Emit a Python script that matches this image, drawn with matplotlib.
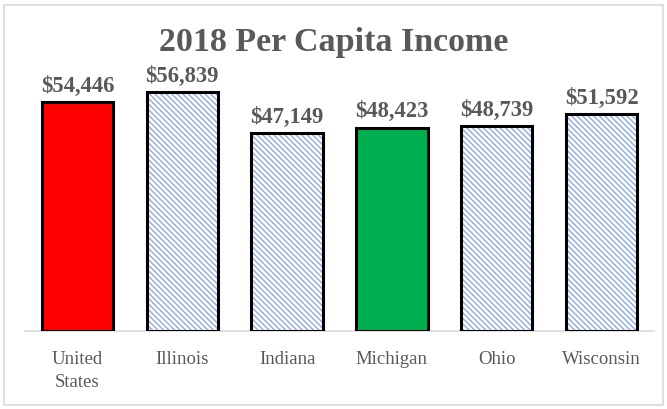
# 2018 per capita income bar chart
import matplotlib.pyplot as plt
from matplotlib.patches import Rectangle

# data
states = ['United\nStates', 'Illinois', 'Indiana', 'Michigan', 'Ohio', 'Wisconsin']
income = [54446, 56839, 47149, 48423, 48739, 51592]
fills = ['#FF0000', 'hatch', 'hatch', '#00B050', 'hatch', 'hatch']

grey = '#595959'
hatch_blue = '#8FAADC'

plt.rcParams['font.family'] = ['Liberation Serif', 'DejaVu Serif']
plt.rcParams['hatch.linewidth'] = 1.0

fig = plt.figure(figsize=(6.67, 4.10), dpi=100)
ax = fig.add_axes([25 / 667, 78 / 410, 629 / 667, 252 / 410])

x = range(len(states))
for i, (val, f) in enumerate(zip(income, fills)):
    if f == 'hatch':
        ax.bar(i, val, width=0.68, color='white', edgecolor=hatch_blue,
               hatch='\\' * 6, linewidth=0, zorder=2)
        ax.bar(i, val, width=0.68, color='none', edgecolor='black',
               linewidth=2.2, zorder=3)
    else:
        ax.bar(i, val, width=0.68, color=f, edgecolor='black',
               linewidth=2.2, zorder=3)
    ax.text(i, val + 1500, f'${val:,}', ha='center', va='bottom',
            fontsize=16.3, fontweight='bold', color=grey)

ax.set_xlim(-0.5, len(states) - 0.5)
ax.set_ylim(0, 60000)
ax.set_xticks(list(x))
ax.set_xticklabels(states, fontsize=13.5, color=grey, linespacing=1.45)
ax.tick_params(axis='x', length=0, pad=14)
ax.set_yticks([])
for s in ['top', 'left', 'right']:
    ax.spines[s].set_visible(False)
ax.spines['bottom'].set_color('#D9D9D9')
ax.spines['bottom'].set_linewidth(1.2)

fig.text(0.5, 1 - 43 / 410, '2018 Per Capita Income', ha='center', va='center',
         fontsize=24.5, fontweight='bold', color=grey)

# chart border
fig.patches.append(Rectangle((4 / 667, 4 / 410), 659 / 667, 400 / 410,
                             transform=fig.transFigure, fill=False,
                             edgecolor='#D9D9D9', linewidth=1.2))

plt.savefig('out.png', dpi=100)
